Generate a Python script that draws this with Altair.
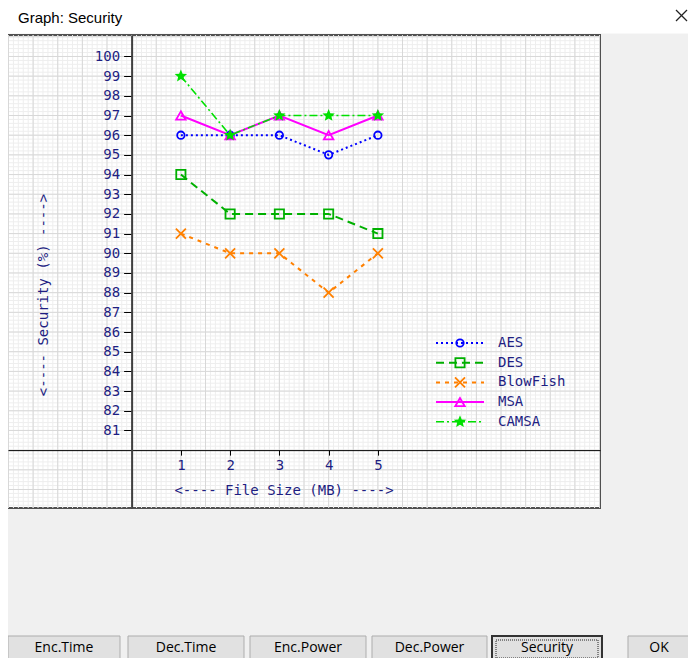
import math
import altair as alt
import numpy as np
import pandas as pd

# ---------------- data ----------------
file_size = [1, 2, 3, 4, 5]
aes = [96, 96, 96, 95, 96]
des = [94, 92, 92, 92, 91]
blowfish = [91, 90, 90, 88, 90]
msa = [97, 96, 97, 96, 97]
camsa = [99, 96, 97, 97, 97]
series_names = ["AES", "DES", "BlowFish", "MSA", "CAMSA"]
series_values = [aes, des, blowfish, msa, camsa]
x_ticks = [1, 2, 3, 4, 5]
y_ticks = list(range(81, 101))
button_labels = ["Enc.Time", "Dec.Time", "Enc.Power", "Dec.Power", "Security", "OK"]
window_title = "Graph: Security"
x_title = "<---- File Size (MB) ---->"
y_title = "<---- Security (%) ---->"

# ---------------- layout / style ----------------
W, H = 592, 473
X_MIN, X_MAX = -2.51, 9.51
Y_MIN, Y_MAX = 77.06, 101.09
PX0, PY0 = 8, 35  # page position of plot origin


def px(v):
    return v - PX0


def py(v):
    return v - PY0


x0_pix = (0 - X_MIN) / (X_MAX - X_MIN) * W
y80_pix = (Y_MAX - 80) / (Y_MAX - Y_MIN) * H

NAVY = "#1e1e82"
MONO = "DejaVu Sans Mono"
UI = "Open Sans"

XS = alt.Scale(domain=[X_MIN, X_MAX], nice=False, zero=False)
YS = alt.Scale(domain=[Y_MIN, Y_MAX], nice=False, zero=False)
XA = alt.Axis(values=x_ticks, format="d", offset=-(H - y80_pix), grid=False, title=None,
              domainColor="black", domainWidth=1, tickColor="black", tickSize=5,
              labelFont=MONO, labelFontSize=14, labelColor=NAVY, labelPadding=3, zindex=1)
YA = alt.Axis(values=y_ticks, format="d", offset=-x0_pix, grid=False, title=None,
              domainColor="#404040", domainWidth=2, tickColor="black", tickSize=8,
              labelFont=MONO, labelFontSize=14, labelColor=NAVY, labelPadding=4, zindex=1)


def xenc(f):
    return alt.X(f, type="quantitative", scale=XS, axis=XA)


def yenc(f):
    return alt.Y(f, type="quantitative", scale=YS, axis=YA)


# star / x marker paths
star_pts = []
for i in range(10):
    r = 1.0 if i % 2 == 0 else 0.45
    a = -math.pi / 2 + i * math.pi / 5
    star_pts.append(f"{r * math.cos(a):.3f},{r * math.sin(a):.3f}")
STAR = "M" + "L".join(star_pts) + "Z"
XMARK = "M-1,-1L1,1M-1,1L1,-1"

styles = {
    "AES": dict(color="#0000ff", dash=[2, 3], shape="circle", filled=False, size=55, lw=2),
    "DES": dict(color="#00b000", dash=[8, 5], shape="square", filled=False, size=85, lw=2),
    "BlowFish": dict(color="#ff8000", dash=[4, 5], shape=XMARK, filled=False, size=100, lw=2),
    "MSA": dict(color="#ff00ff", dash=None, shape="triangle-up", filled=False, size=90, lw=2),
    "CAMSA": dict(color="#00e000", dash=[8, 3, 2, 3], shape=STAR, filled=True, size=170, lw=1.6),
}

layers = []

# ---------- grid ----------
minor_x = np.round(np.arange(-2.5, 9.51, 0.1), 2)
major_x = np.round(np.arange(-2.5, 9.51, 0.5), 2)
minor_y = np.round(np.arange(77.2, 101.01, 0.2), 2)
major_y = np.arange(78, 102, 1)

layers.append(alt.Chart(pd.DataFrame({"gx": minor_x})).mark_rule(color="#eeeeee", strokeWidth=1)
              .encode(x=xenc("gx")))
layers.append(alt.Chart(pd.DataFrame({"gy": minor_y})).mark_rule(color="#eeeeee", strokeWidth=1)
              .encode(y=yenc("gy")))
layers.append(alt.Chart(pd.DataFrame({"gx": major_x})).mark_rule(color="#d8d8d8", strokeWidth=1)
              .encode(x=xenc("gx")))
layers.append(alt.Chart(pd.DataFrame({"gy": major_y})).mark_rule(color="#d8d8d8", strokeWidth=1)
              .encode(y=yenc("gy")))

# ---------- series ----------
for name, vals in zip(series_names, series_values):
    st = styles[name]
    df = pd.DataFrame({"size": file_size, "sec": vals})
    line_kw = dict(color=st["color"], strokeWidth=st["lw"])
    if st["dash"]:
        line_kw["strokeDash"] = st["dash"]
    layers.append(alt.Chart(df).mark_line(**line_kw).encode(x=xenc("size"), y=yenc("sec")))
    layers.append(alt.Chart(df).mark_point(shape=st["shape"], filled=st["filled"], color=st["color"],
                                           size=st["size"], strokeWidth=1.8, opacity=1)
                  .encode(x=xenc("size"), y=yenc("sec")))

# ---------- legend ----------
for i, name in enumerate(series_names):
    st = styles[name]
    yp = py(343 + i * 19.7)
    one = pd.DataFrame({"label": [name]})
    rk = dict(color=st["color"], strokeWidth=st["lw"])
    if st["dash"]:
        rk["strokeDash"] = st["dash"]
    layers.append(alt.Chart(one).mark_rule(**rk).encode(
        x=alt.value(px(436)), x2=alt.value(px(484)), y=alt.value(yp)))
    layers.append(alt.Chart(one).mark_point(shape=st["shape"], filled=st["filled"], color=st["color"],
                                            size=st["size"], strokeWidth=1.8, opacity=1)
                  .encode(x=alt.value(px(460)), y=alt.value(yp)))
    layers.append(alt.Chart(one).mark_text(align="left", baseline="middle", font=MONO, fontSize=14,
                                           color=NAVY)
                  .encode(x=alt.value(px(498)), y=alt.value(yp), text="label:N"))

# ---------- axis titles ----------
layers.append(alt.Chart(pd.DataFrame({"t": [x_title]})).mark_text(
    align="center", baseline="middle", font=MONO, fontSize=14, color=NAVY)
    .encode(x=alt.value(px(284)), y=alt.value(py(491)), text="t:N"))
layers.append(alt.Chart(pd.DataFrame({"t": [y_title]})).mark_text(
    align="center", baseline="middle", font=MONO, fontSize=14, color=NAVY, angle=270)
    .encode(x=alt.value(px(44)), y=alt.value(py(295)), text="t:N"))

# ---------- window chrome ----------
layers.append(alt.Chart(pd.DataFrame({"a": [0]})).mark_rect(fill="white").encode(
    x=alt.value(px(0)), x2=alt.value(px(700)), y=alt.value(py(0)), y2=alt.value(py(33.5))))
layers.append(alt.Chart(pd.DataFrame({"t": [window_title]})).mark_text(
    align="left", baseline="middle", font="Liberation Sans", fontSize=15, color="black")
    .encode(x=alt.value(px(18)), y=alt.value(py(17.5)), text="t:N"))
close_df = pd.DataFrame({"a": [0]})
layers.append(alt.Chart(close_df).mark_rule(color="#222222", strokeWidth=1.2).encode(
    x=alt.value(px(676)), y=alt.value(py(10)), x2=alt.value(px(687)), y2=alt.value(py(21))))
layers.append(alt.Chart(close_df).mark_rule(color="#222222", strokeWidth=1.2).encode(
    x=alt.value(px(687)), y=alt.value(py(10)), x2=alt.value(px(676)), y2=alt.value(py(21))))

BTN_X = [(8, 120), (128, 244), (250, 366), (372, 487), (492, 602), (628, 690)]
BTN_Y = (636, 662)
for lab, (bx0, bx1) in zip(button_labels, BTN_X):
    one = pd.DataFrame({"label": [lab]})
    focused = lab == "Security"
    layers.append(alt.Chart(one).mark_rect(
        fill="#e1e1e1", stroke="#333333" if focused else "#adadad",
        strokeWidth=2 if focused else 1).encode(
        x=alt.value(px(bx0)), x2=alt.value(px(bx1)), y=alt.value(py(BTN_Y[0])), y2=alt.value(py(BTN_Y[1]))))
    if focused:
        layers.append(alt.Chart(one).mark_rect(
            fill="#e1e1e1", stroke="#222222", strokeWidth=1, strokeDash=[1, 1]).encode(
            x=alt.value(px(bx0 + 4)), x2=alt.value(px(bx1 - 4)),
            y=alt.value(py(BTN_Y[0] + 4)), y2=alt.value(py(BTN_Y[1] - 4))))
    layers.append(alt.Chart(one).mark_text(
        align="center", baseline="middle", font=UI, fontSize=14, color="black").encode(
        x=alt.value(px((bx0 + bx1) / 2)), y=alt.value(py(648)), text="label:N"))

chart = alt.layer(*layers).properties(
    width=W, height=H,
    padding={"left": 0, "top": 27, "right": 88, "bottom": 150},
    autosize=alt.AutoSizeParams(type="none"),
    background="#f0f0f0",
).configure_view(fill="white", stroke="#505050", strokeWidth=2)

chart.save("out.html", embed_options={"renderer": "svg", "actions": False})
